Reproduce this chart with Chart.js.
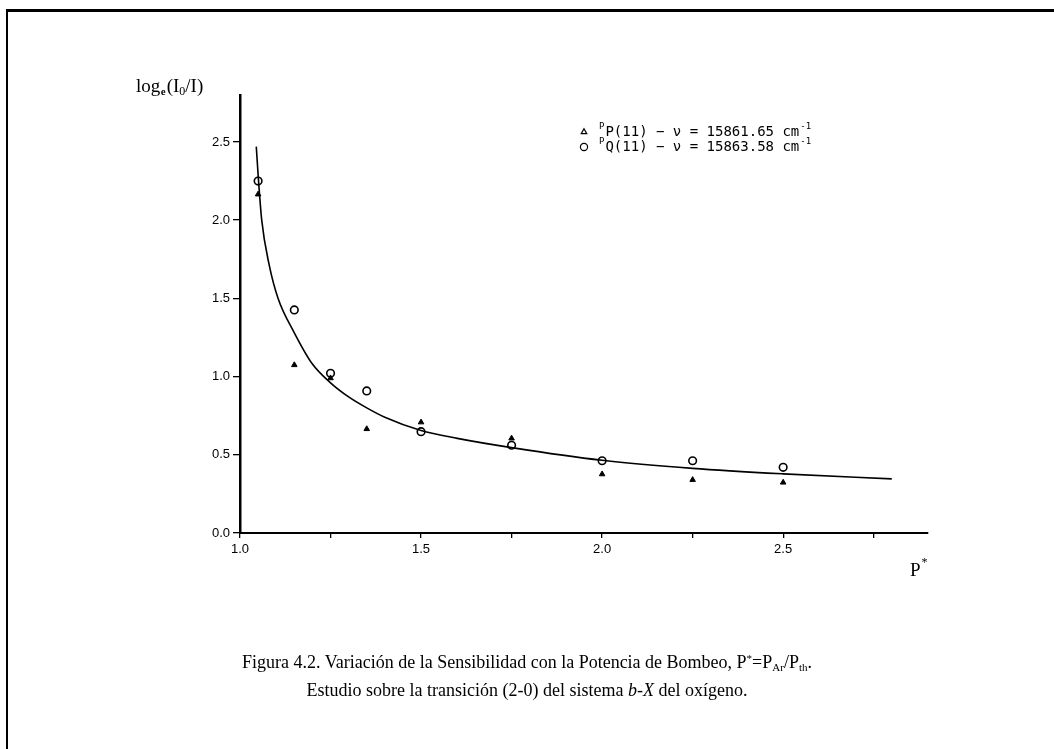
<!DOCTYPE html>
<html>
<head>
<meta charset="utf-8">
<script src="https://cdn.jsdelivr.net/npm/chart.js@4.4.1/dist/chart.umd.min.js"></script>
<style>
  html, body { margin: 0; padding: 0; background: #fff; }
  #page { position: relative; width: 1054px; height: 749px; overflow: hidden; background: #fff; }
  #chart { position: absolute; left: 0; top: 0; }
  .rule-top { position: absolute; left: 7px; top: 9px; width: 1047px; height: 3px; background: #000; }
  .rule-left { position: absolute; left: 6px; top: 9px; width: 2px; height: 740px; background: #000; }
  .cap { position: absolute; left: 0; width: 1054px; text-align: center;
         font-family: "Liberation Serif", "Times New Roman", serif; font-size: 18px; color: #000; }
  .cap sub { font-size: 11px; vertical-align: -3px; }
  .cap sup { font-size: 11px; vertical-align: 6px; }
</style>
</head>
<body>
<div id="page">
  <div class="rule-top"></div>
  <div class="rule-left"></div>
  <canvas id="chart" width="1054" height="749"></canvas>
  <div class="cap" style="top:652px">Figura 4.2. Variación de la Sensibilidad con la Potencia de Bombeo, P<sup>*</sup>=P<sub>Ar</sub>/P<sub>th</sub>.</div>
  <div class="cap" style="top:680px">Estudio sobre la transición (2-0) del sistema <i>b-X</i> del oxígeno.</div>
</div>
<script>
// measured points, P* on x
const pumpPower = [1.05, 1.15, 1.25, 1.35, 1.5, 1.75, 2.0, 2.25, 2.5];
const branchP = [2.165, 1.074, 0.99, 0.665, 0.708, 0.605, 0.376, 0.34, 0.323];   // PP(11), triangles
const branchQ = [2.25, 1.426, 1.021, 0.908, 0.648, 0.561, 0.462, 0.462, 0.42];    // PQ(11), circles

// fitted curve
const fitX = [1.045, 1.05, 1.06, 1.08, 1.105, 1.15, 1.2, 1.25, 1.3, 1.35, 1.4, 1.5, 1.6, 1.75, 2.0, 2.25, 2.5, 2.8];
const fitY = [2.47, 2.29, 2.0, 1.72, 1.5, 1.28, 1.08, 0.96, 0.87, 0.8, 0.74, 0.655, 0.605, 0.546, 0.465, 0.413, 0.378, 0.346];

const xTicks = [1.0, 1.25, 1.5, 1.75, 2.0, 2.25, 2.5, 2.75];
const xLabels = ['1.0', '', '1.5', '', '2.0', '', '2.5', ''];
const yTicks = [0, 0.5, 1.0, 1.5, 2.0, 2.5];

const toXY = (xs, ys) => xs.map((x, i) => ({ x: x, y: ys[i] }));

function put(ctx, text, x, y, font) {
  ctx.font = font;
  ctx.fillText(text, x, y);
  return x + ctx.measureText(text).width;
}

const serif = '"Liberation Serif", "Times New Roman", serif';
const mono = '"DejaVu Sans Mono", monospace';

const annotate = {
  id: 'annotate',
  afterDraw(chart) {
    const ctx = chart.ctx;
    ctx.save();
    ctx.fillStyle = '#000';
    ctx.strokeStyle = '#000';
    ctx.textBaseline = 'alphabetic';

    // y axis title: log_e(I_0/I)
    let x = 136, y = 92;
    x = put(ctx, 'log', x, y, '19px ' + serif);
    x = put(ctx, 'e', x + 0.5, y + 3, 'bold 11px ' + serif);
    x = put(ctx, '(I', x + 1, y, '19px ' + serif);
    x = put(ctx, '0', x, y + 3, '12px ' + serif);
    x = put(ctx, '/I)', x, y, '19px ' + serif);

    // x axis title: P*
    x = put(ctx, 'P', 910, 576, '19px ' + serif);
    put(ctx, '*', x + 1, 566, '12px ' + serif);

    // legend
    const rows = [
      { style: 'triangle', r: 3.2, y: 136, branch: 'P', nu: '15861.65' },
      { style: 'circle', r: 3.6, y: 151, branch: 'Q', nu: '15863.58' }
    ];
    rows.forEach(row => {
      ctx.lineWidth = 1.2;
      ctx.fillStyle = '#fff';
      Chart.helpers.drawPoint(ctx, { pointStyle: row.style, radius: row.r, rotation: 0, borderWidth: 1.2 }, 584, row.y - 4);
      ctx.fillStyle = '#000';
      let tx = put(ctx, 'P', 599, row.y - 7, '9px ' + mono);
      tx = put(ctx, row.branch + '(11) \u2212 \u03bd = ' + row.nu + ' cm', tx + 1, row.y, '14px ' + mono);
      put(ctx, '-1', tx + 1, row.y - 7, '9px ' + mono);
    });
    ctx.restore();
  }
};

new Chart(document.getElementById('chart'), {
  type: 'scatter',
  data: {
    datasets: [
      {
        label: 'ajuste',
        data: toXY(fitX, fitY),
        showLine: true,
        borderColor: '#000',
        borderWidth: 1.6,
        pointRadius: 0,
        cubicInterpolationMode: 'monotone'
      },
      {
        label: 'PP(11)',
        data: toXY(pumpPower, branchP),
        pointStyle: 'triangle',
        pointRadius: 3.2,
        borderColor: '#000',
        backgroundColor: '#000',
        borderWidth: 1
      },
      {
        label: 'PQ(11)',
        data: toXY(pumpPower, branchQ),
        pointStyle: 'circle',
        pointRadius: 3.8,
        borderColor: '#000',
        backgroundColor: '#fff',
        borderWidth: 1.6
      }
    ]
  },
  options: {
    responsive: false,
    animation: false,
    devicePixelRatio: 1,
    layout: { padding: { left: 200, top: 95, right: 126, bottom: 186 } },
    plugins: { legend: { display: false }, tooltip: { enabled: false } },
    scales: {
      x: {
        type: 'linear',
        min: 1.0,
        max: 2.9,
        afterFit(scale) { scale.height = 30; },
        afterBuildTicks(scale) { scale.ticks = xTicks.map(v => ({ value: v })); },
        border: { display: true, color: '#000', width: 2 },
        grid: { display: true, drawOnChartArea: false, drawTicks: true, tickLength: 5, color: '#000', lineWidth: 1.3 },
        ticks: {
          color: '#000',
          padding: 4,
          maxRotation: 0,
          autoSkip: false,
          font: { family: 'Liberation Sans', size: 13 },
          callback: (v, i) => xLabels[i]
        }
      },
      y: {
        type: 'linear',
        min: 0,
        max: 2.8,
        afterFit(scale) { scale.width = 40; },
        afterBuildTicks(scale) { scale.ticks = yTicks.map(v => ({ value: v })); },
        border: { display: true, color: '#000', width: 2.5 },
        grid: { display: true, drawOnChartArea: false, drawTicks: true, tickLength: 7, color: '#000', lineWidth: 1.3 },
        ticks: {
          color: '#000',
          padding: 3,
          autoSkip: false,
          font: { family: 'Liberation Sans', size: 13 },
          callback: v => v.toFixed(1)
        }
      }
    }
  },
  plugins: [annotate]
});
</script>
</body>
</html>
